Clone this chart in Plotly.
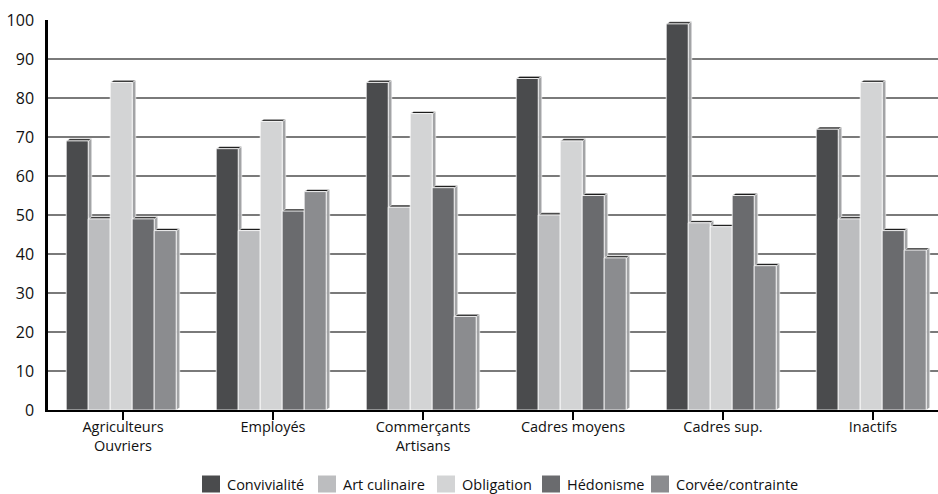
import plotly.graph_objects as go

# Socio-professional groups (x categories)
categories = ["Agriculteurs<br>Ouvriers", "Employés", "Commerçants<br>Artisans",
              "Cadres moyens", "Cadres sup.", "Inactifs"]

# Series names and values (%)
series_names = ["Convivialité", "Art culinaire", "Obligation", "Hédonisme", "Corvée/contrainte"]
convivialite = [69, 67, 84, 85, 99, 72]
art_culinaire = [49, 46, 52, 50, 48, 49]
obligation = [84, 74, 76, 69, 47, 84]
hedonisme = [49, 51, 57, 55, 55, 46]
corvee = [46, 56, 24, 39, 37, 41]
series_values = [convivialite, art_culinaire, obligation, hedonisme, corvee]

y_ticks = [0, 10, 20, 30, 40, 50, 60, 70, 80, 90, 100]

colors = ["#4a4b4d", "#bcbdbf", "#d3d4d5", "#6a6b6e", "#8b8c8f"]
side_color = "#a3a4a6"
top_color = "#1c1c1c"
FONT = "Open Sans, Noto Sans, sans-serif"
TEXT = "#111111"

W, H = 938, 494
M_L, M_R, M_T, M_B = 48, 0, 20, 84
PLOT_W, PLOT_H = W - M_L - M_R, H - M_T - M_B

n_series = len(series_names)
group_gap = 0.267
bar_w = (1 - group_gap) / n_series
depth_x = 0.024   # pseudo-3D depth along x (category units)
depth_y = 0.55    # pseudo-3D depth along y (value units)

fig = go.Figure()
shapes_side, shapes_top = [], []
for j, (name, vals, col) in enumerate(zip(series_names, series_values, colors)):
    off = (j - n_series / 2) * bar_w - depth_x / 2
    fig.add_trace(go.Bar(
        x=list(range(len(categories))), y=vals, name=name,
        width=bar_w, offset=off,
        marker=dict(color=col, line=dict(color="white", width=0.8)),
        showlegend=False, hoverinfo="skip",
    ))
    for i, v in enumerate(vals):
        xl = i + off
        xr = xl + bar_w
        shapes_side.append(dict(
            type="path", layer="between", xref="x", yref="y",
            path=f"M{xr},0 L{xr + depth_x},{depth_y} L{xr + depth_x},{v + depth_y} L{xr},{v} Z",
            fillcolor=side_color, line=dict(color="white", width=0.6)))
        shapes_top.append(dict(
            type="path", layer="between", xref="x", yref="y",
            path=f"M{xl},{v} L{xl + depth_x},{v + depth_y} L{xr + depth_x},{v + depth_y} L{xr},{v} Z",
            fillcolor=top_color, line=dict(color="white", width=0.6)))

# Legend row drawn below the axis: swatch squares + labels (pixel layout)
legend_x_px = [202, 318, 437, 542, 651]
legend_y_px = 484
swatch = 17


def px_to_paper_x(px):
    return (px - M_L) / PLOT_W


def px_to_paper_y(py):
    return (H - M_B - py) / PLOT_H


legend_shapes, legend_notes = [], []
for name, col, lx in zip(series_names, colors, legend_x_px):
    legend_shapes.append(dict(
        type="rect", xref="paper", yref="paper", layer="above",
        x0=px_to_paper_x(lx), x1=px_to_paper_x(lx + swatch + 1),
        y0=px_to_paper_y(legend_y_px + swatch / 2), y1=px_to_paper_y(legend_y_px - swatch / 2),
        fillcolor=col, line=dict(width=0)))
    legend_notes.append(dict(
        xref="paper", yref="paper", x=px_to_paper_x(lx + swatch + 6), y=px_to_paper_y(legend_y_px),
        xanchor="left", yanchor="middle", text=name, showarrow=False,
        font=dict(size=14.5, family=FONT, color=TEXT)))

fig.update_layout(
    width=W, height=H,
    margin=dict(l=M_L, r=M_R, t=M_T, b=M_B, autoexpand=False),
    paper_bgcolor="white", plot_bgcolor="white",
    barmode="overlay",
    font=dict(family=FONT, size=14.5, color=TEXT),
    shapes=shapes_side + shapes_top + legend_shapes,
    annotations=legend_notes,
    showlegend=False,
    xaxis=dict(
        tickmode="array", tickvals=list(range(len(categories))), ticktext=categories,
        range=[-0.5, 5.5 - 10 / 150], showgrid=False, zeroline=False,
        showline=True, linecolor="black", linewidth=1.5,
        ticks="outside", ticklen=8, tickwidth=1.5, tickcolor="black",
        tickson="boundaries", tickfont=dict(size=14.5), ticklabelstandoff=-5,
        fixedrange=True, automargin=False,
    ),
    yaxis=dict(
        range=[0, 100], tickvals=y_ticks, showgrid=True, gridcolor="#7a7a7a", gridwidth=1.5,
        zeroline=False, showline=True, linecolor="black", linewidth=2.5,
        ticks="", tickfont=dict(size=16), ticklabelstandoff=8, fixedrange=True, automargin=False,
    ),
)

fig.write_html("out.html")
